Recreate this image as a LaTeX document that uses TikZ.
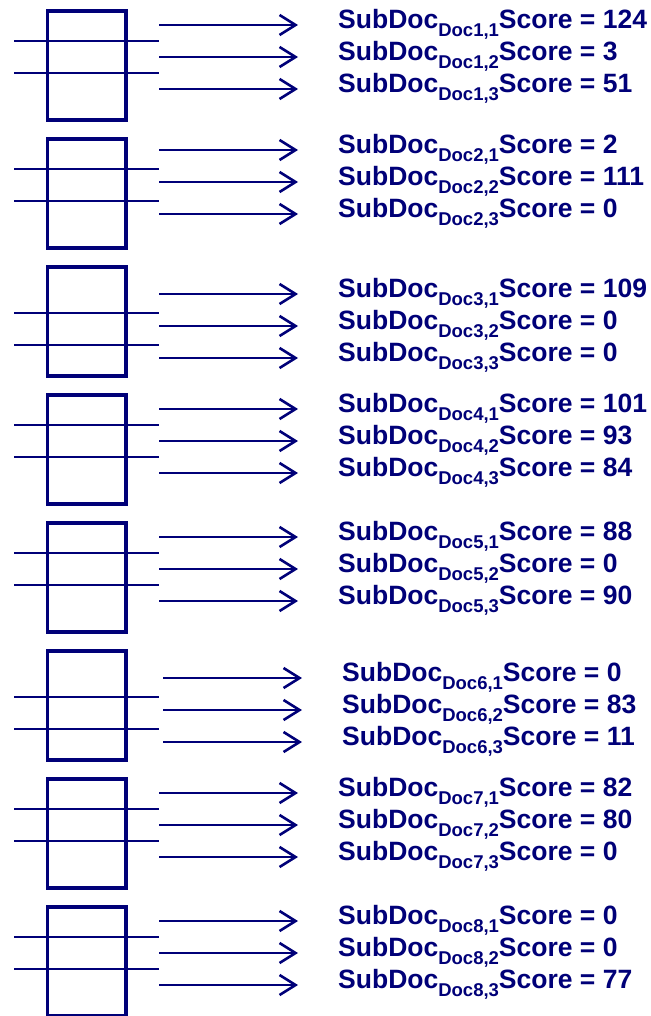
\documentclass[tikz,border=0pt]{standalone}
\usepackage{fontspec}
\setmainfont{Liberation Sans}
\usetikzlibrary{arrows.meta}
\definecolor{navy}{HTML}{000078}
\newcommand\docsub[1]{\raisebox{-8pt}{\fontsize{18.5}{18.5}\selectfont #1}}
\tikzset{
  docbox/.style={draw=navy, line width=3.6pt, minimum width=78.5pt, minimum height=109.5pt, inner sep=0pt, outer sep=0pt, anchor=north west},
  sepline/.style={draw=navy, line width=1.4pt},
  outarrow/.style={draw=navy, line width=2.6pt, -{Straight Barb[length=16pt,width=20pt,line width=2.6pt]}},
  score/.style={text=navy, font=\fontsize{26.5}{26.5}\selectfont\bfseries, inner sep=0pt, anchor=base west},
}
\newcommand\docblock[8]{%
  \node[docbox] (box#1) at (47.5,{#2+1.75}) {};
  \coordinate (la#1) at (14,{#2+#4});
  \coordinate (lae#1) at (159,{#2+#4});
  \coordinate (lb#1) at (14,{#2+#4+32});
  \coordinate (lbe#1) at (159,{#2+#4+32});
  \draw[sepline] (la#1) -- (lae#1);
  \draw[sepline] (lb#1) -- (lbe#1);
  \foreach \k/\s in {1/#6,2/#7,3/#8} {
    \coordinate (as#1\k) at (#5,{#3+32*(\k-1)});
    \coordinate (ae#1\k) at ({#5+139},{#3+32*(\k-1)});
    \draw[outarrow] (as#1\k) -- (ae#1\k);
    \node[score] (t#1\k) at ({#5+179},{#3+32*(\k-1)+3.5}) {SubDoc\docsub{Doc#1,\k}Score = \s};
  }%
}
\begin{document}
\begin{tikzpicture}[x=1pt,y=-1pt]
\useasboundingbox (0,0) rectangle (650,1016);
\docblock{1}{9}{25}{32}{159}{124}{3}{51}
\docblock{2}{137}{150}{32}{159}{2}{111}{0}
\docblock{3}{265}{294}{48}{159}{109}{0}{0}
\docblock{4}{393}{409}{32}{159}{101}{93}{84}
\docblock{5}{521}{537}{32}{159}{88}{0}{90}
\docblock{6}{649}{678}{48}{163}{0}{83}{11}
\docblock{7}{777}{793}{32}{159}{82}{80}{0}
\docblock{8}{905}{921}{32}{159}{0}{0}{77}
\end{tikzpicture}
\end{document}
